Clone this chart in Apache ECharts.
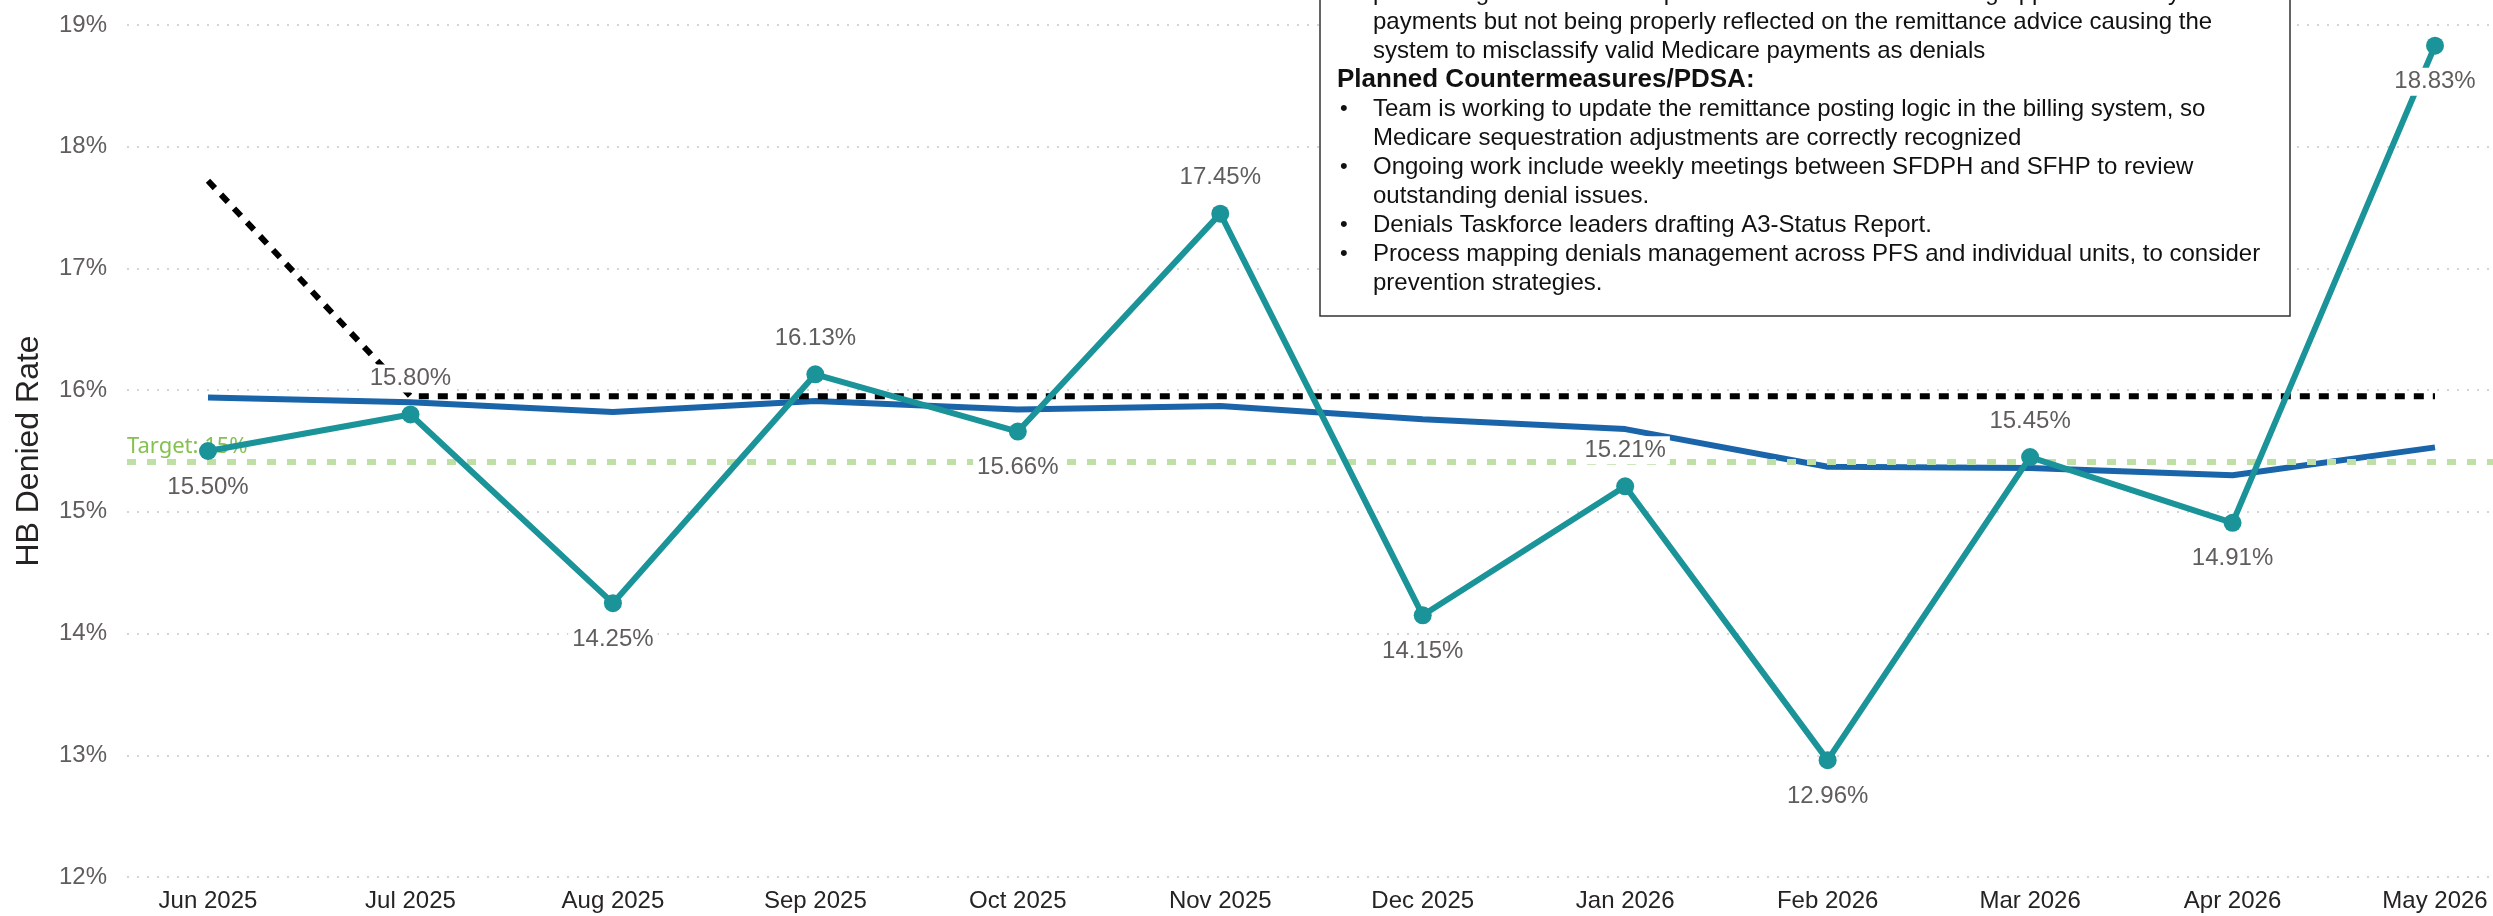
<!DOCTYPE html>
<html>
<head>
<meta charset="utf-8">
<script src="https://cdn.jsdelivr.net/npm/echarts@6/dist/echarts.min.js"></script>
<style>
  html, body { margin: 0; padding: 0; background: #fff; }
  #chart { width: 2493px; height: 916px; }
</style>
</head>
<body>
<div id="chart"></div>
<script>
const months = ['Jun 2025', 'Jul 2025', 'Aug 2025', 'Sep 2025', 'Oct 2025', 'Nov 2025', 'Dec 2025', 'Jan 2026', 'Feb 2026', 'Mar 2026', 'Apr 2026', 'May 2026']
const deniedRate = [15.50, 15.80, 14.25, 16.13, 15.66, 17.45, 14.15, 15.21, 12.96, 15.45, 14.91, 18.83]
const trendRate = [15.94, 15.90, 15.82, 15.91, 15.84, 15.87, 15.76, 15.68, 15.37, 15.36, 15.30, 15.53]
const baselineRate = [17.72, 15.95, 15.95, 15.95, 15.95, 15.95, 15.95, 15.95, 15.95, 15.95, 15.95, 15.95]
const targetRate = 15.41
const targetText = 'Target: 15%'
const yMin = 12
const yMax = 19

// note box lines: [bullet, text, bold]
const noteLines = [
  [false, 'processing issue where sequestration reductions are being applied correctly to', false],
  [false, 'payments but not being properly reflected on the remittance advice causing the', false],
  [false, 'system to misclassify valid Medicare payments as denials', false],
  [false, 'Planned Countermeasures/PDSA:', true],
  [true, 'Team is working to update the remittance posting logic in the billing system, so', false],
  [false, 'Medicare sequestration adjustments are correctly recognized', false],
  [true, 'Ongoing work include weekly meetings between SFDPH and SFHP to review', false],
  [false, 'outstanding denial issues.', false],
  [true, 'Denials Taskforce leaders drafting A3-Status Report.', false],
  [true, 'Process mapping denials management across PFS and individual units, to consider', false],
  [false, 'prevention strategies.', false]
]

const labelSide = ['bottom', 'top', 'bottom', 'top', 'bottom', 'top', 'bottom', 'top', 'bottom', 'top', 'bottom', 'bottom']

const chart = echarts.init(document.getElementById('chart'))

const font = 'Arial, "Liberation Sans", sans-serif'

const noteGraphics = [{
  type: 'rect',
  shape: { x: 1320, y: -20, width: 970, height: 336 },
  style: { fill: '#fff', stroke: '#333', lineWidth: 1.5 },
  z: 100
}]
noteLines.forEach((line, i) => {
  const y = -7 + i * 29
  if (line[0]) {
    noteGraphics.push({
      type: 'text', x: 1340, y, z: 101,
      style: { text: '•', fontSize: 22, fontFamily: font, fill: '#111', verticalAlign: 'middle' }
    })
  }
  noteGraphics.push({
    type: 'text', x: line[2] ? 1337 : 1373, y, z: 101,
    style: {
      text: line[1],
      fontSize: line[2] ? 26 : 24,
      fontWeight: line[2] ? 'bold' : 'normal',
      fontFamily: font,
      fill: '#111',
      verticalAlign: 'middle'
    }
  })
})

const option = {
  backgroundColor: '#fff',
  animation: false,
  grid: [
    { left: 127, right: 0, top: 25, bottom: 39 },
    { left: 208, right: 58, top: 25, bottom: 39 }
  ],
  xAxis: [
    { gridIndex: 0, type: 'value', min: 0, max: 1, show: false },
    {
      gridIndex: 1,
      type: 'category',
      data: months,
      boundaryGap: false,
      axisLine: { show: false },
      axisTick: { show: false },
      axisLabel: { color: '#252423', fontSize: 24, fontFamily: font, margin: 12 }
    }
  ],
  yAxis: [
    {
      gridIndex: 0,
      type: 'value',
      min: yMin,
      max: yMax,
      interval: 1,
      name: 'HB Denied Rate',
      nameLocation: 'middle',
      nameGap: 82,
      nameTextStyle: { color: '#252423', fontSize: 32, fontFamily: font },
      axisLine: { show: false },
      axisTick: { show: false },
      axisLabel: { formatter: '{value}%', color: '#605e5c', fontSize: 24, fontFamily: font, margin: 20 },
      splitLine: { lineStyle: { color: '#c6c6c6', width: 1.5, type: [2, 8] } }
    },
    { gridIndex: 1, type: 'value', min: yMin, max: yMax, interval: 1, show: false, splitLine: { show: false } }
  ],
  graphic: noteGraphics,
  series: [
    {
      name: 'Trend',
      type: 'line',
      xAxisIndex: 1,
      yAxisIndex: 1,
      data: trendRate,
      showSymbol: false,
      lineStyle: { color: '#1a64aa', width: 6 },
      z: 2
    },
    {
      name: 'Baseline',
      type: 'line',
      xAxisIndex: 1,
      yAxisIndex: 1,
      data: baselineRate,
      showSymbol: false,
      lineStyle: { color: '#000', width: 6, type: [10, 9] },
      z: 3
    },
    {
      name: 'Target',
      type: 'line',
      xAxisIndex: 0,
      yAxisIndex: 0,
      data: [],
      z: 4,
      markLine: {
        silent: true,
        symbol: 'none',
        data: [{ yAxis: targetRate }],
        lineStyle: { color: '#bfe0a5', width: 6, type: [9, 11] },
        label: {
          position: 'insideStartTop',
          formatter: targetText,
          color: '#86c150',
          fontSize: 22,
          fontFamily: '"Segoe UI", "Noto Sans", sans-serif',
          distance: [0, 4]
        }
      }
    },
    {
      name: 'HB Denied Rate',
      type: 'line',
      xAxisIndex: 1,
      yAxisIndex: 1,
      data: deniedRate.map((v, i) => ({
        value: v,
        label: { position: labelSide[i] }
      })),
      symbol: 'circle',
      symbolSize: 18,
      itemStyle: { color: '#1a9399' },
      lineStyle: { color: '#1a9399', width: 6 },
      z: 5,
      label: {
        show: true,
        formatter: p => p.value.toFixed(2) + '%',
        color: '#605e5c',
        fontSize: 24,
        fontFamily: font,
        backgroundColor: '#fff',
        padding: [2, 4],
        distance: 13
      }
    }
  ]
}

chart.setOption(option)
</script>
</body>
</html>
